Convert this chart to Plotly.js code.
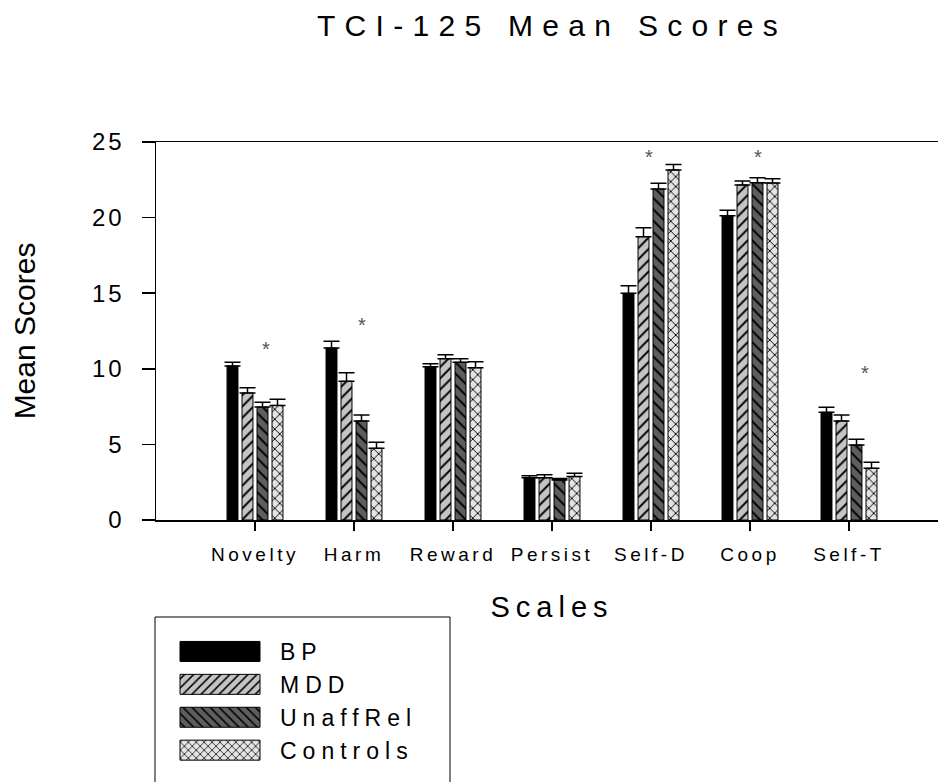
<!DOCTYPE html>
<html><head><meta charset="utf-8">
<script src="https://cdn.plot.ly/plotly-3.0.1.min.js"></script>
<style>
html,body{margin:0;padding:0;overflow:hidden;background:#fff;}
#chart{width:960px;height:782px;}
.gtitle{letter-spacing:9.3px;}
.xtick text{letter-spacing:3.5px;}
.ytick text{letter-spacing:3px;}
.xtitle{letter-spacing:6px;}
.legendtext{letter-spacing:6px;}
</style></head><body><div id="chart"></div>
<script>
// ---- data ----
const scales = ['Novelty','Harm','Reward','Persist','Self-D','Coop','Self-T'];
const groupNames = ['BP','MDD','UnaffRel','Controls'];
const bpMean       = [10.19, 11.38, 10.14, 2.80, 14.99, 20.13, 7.12];
const mddMean      = [8.40, 9.17, 10.67, 2.80, 18.74, 22.16, 6.55];
const unaffMean    = [7.47, 6.55, 10.43, 2.65, 21.89, 22.31, 4.96];
const controlsMean = [7.58, 4.74, 10.07, 2.87, 23.15, 22.29, 3.42];
const bpErr        = [0.24, 0.44, 0.20, 0.13, 0.51, 0.35, 0.33];
const mddErr       = [0.35, 0.57, 0.26, 0.20, 0.59, 0.26, 0.39];
const unaffErr     = [0.31, 0.39, 0.24, 0.10, 0.38, 0.33, 0.38];
const controlsErr  = [0.40, 0.40, 0.40, 0.22, 0.37, 0.28, 0.40];
const sigScales = ['Novelty','Harm','Self-D','Coop','Self-T'];
const sigY      = [11.5, 13.1, 24.2, 24.2, 9.9];
const yTicks    = [0, 5, 10, 15, 20, 25];

// ---- styles ----
const means = [bpMean, mddMean, unaffMean, controlsMean];
const errs  = [bpErr, mddErr, unaffErr, controlsErr];
const patterns = [
  {shape:'', bgcolor:'#000000', fgcolor:'#000000'},
  {shape:'/', bgcolor:'#c4c4c4', fgcolor:'#000000', size:8, solidity:0.24, fillmode:'replace'},
  {shape:'\\', bgcolor:'#5e5e5e', fgcolor:'#000000', size:8, solidity:0.24, fillmode:'replace'},
  {shape:'x', bgcolor:'#e4e4e4', fgcolor:'#000000', size:7, solidity:0.25, fillmode:'replace'}
];
const colors = ['#000000','#c4c4c4','#5e5e5e','#e4e4e4'];
const sigShift = [11, 8, -2, 8, 16];

const FONT = 'Liberation Sans, Arial, sans-serif';

const traces = groupNames.map((name, i) => ({
  type: 'bar',
  name: name,
  x: scales,
  y: means[i],
  marker: {
    color: colors[i],
    line: {color: '#000000', width: 1},
    pattern: patterns[i]
  },
  error_y: {
    type: 'data', symmetric: false,
    array: errs[i], arrayminus: errs[i].map(() => 0),
    color: '#000000', thickness: 1.5, width: 8
  },
  hoverinfo: 'skip'
}));

const annotations = sigScales.map((s, i) => ({
  x: s, y: sigY[i], xref: 'x', yref: 'y',
  text: '*', showarrow: false,
  xshift: sigShift[i], yshift: -3,
  xanchor: 'center', yanchor: 'middle',
  font: {family: FONT, size: 20, color: '#555555'}
}));

// plot area: x 156..948, y 142..520
const layout = {
  width: 960, height: 782,
  margin: {l: 156, r: 12, t: 142, b: 262, autoexpand: false},
  paper_bgcolor: '#ffffff', plot_bgcolor: '#ffffff',
  font: {family: FONT, color: '#000000'},
  title: {
    text: 'TCI-125 Mean Scores',
    font: {family: FONT, size: 30, color: '#000000'},
    x: 0.5, xref: 'paper', xanchor: 'center',
    y: 1 - 25/782, yref: 'container', yanchor: 'middle'
  },
  barmode: 'group',
  bargap: 0.394,
  bargroupgap: 0.27,
  showlegend: true,
  legend: {
    x: (160 - 156)/792, y: (520 - 630)/378, xanchor: 'left', yanchor: 'top',
    xref: 'paper', yref: 'paper',
    bgcolor: 'rgba(0,0,0,0)', borderwidth: 0,
    font: {family: FONT, size: 23, color: '#000000'},
    itemwidth: 110, traceorder: 'normal',
    itemclick: false, itemdoubleclick: false
  },
  xaxis: {
    type: 'category',
    range: [-1, 7],
    showline: true, linecolor: '#000000', linewidth: 1.5, mirror: true,
    ticks: 'outside', ticklen: 9, tickwidth: 1.5, tickcolor: '#000000',
    ticklabelstandoff: 8,
    showgrid: false, zeroline: false,
    tickfont: {family: FONT, size: 19, color: '#000000'},
    title: {text: 'Scales', font: {family: FONT, size: 29, color: '#000000'}, standoff: 32}
  },
  yaxis: {
    range: [0, 25],
    tickvals: yTicks,
    showline: true, linecolor: '#000000', linewidth: 1.5, mirror: true,
    ticks: 'outside', ticklen: 13, tickwidth: 1.5, tickcolor: '#000000',
    ticklabelstandoff: 12,
    showgrid: false, zeroline: false,
    tickfont: {family: FONT, size: 24, color: '#000000'},
    title: {text: 'Mean Scores', font: {family: FONT, size: 30, color: '#000000'}, standoff: 47}
  },
  annotations: annotations,
  shapes: [{
    type: 'rect', xref: 'paper', yref: 'paper',
    x0: (155 - 156)/792, x1: (450 - 156)/792,
    y0: (520 - 830)/378, y1: (520 - 617)/378,
    line: {color: '#000000', width: 1}, fillcolor: 'rgba(0,0,0,0)', layer: 'below'
  }]
};

Plotly.newPlot('chart', traces, layout, {staticPlot: true, displayModeBar: false}).then(() => {
  document.querySelectorAll('.legend .legendpoints path').forEach(p => {
    p.setAttribute('d', 'M40,10H-40V-10H40Z');
  });
});
</script></body></html>
